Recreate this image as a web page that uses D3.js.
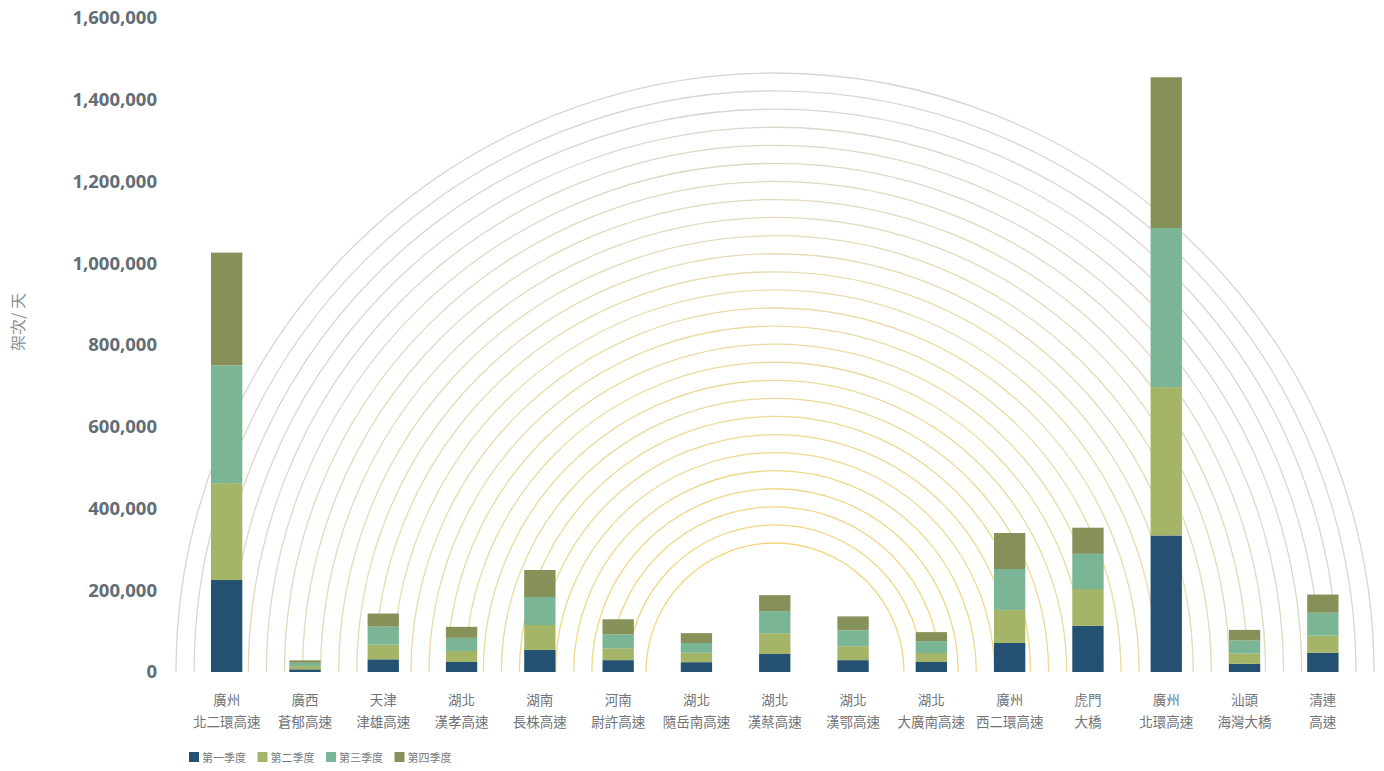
<!DOCTYPE html>
<html>
<head>
<meta charset="UTF-8">
<title>架次 / 天</title>
<script src="https://d3js.org/d3.v7.min.js"></script>
<style>
  body { margin: 0; background: #fff; }
  svg { display: block; }
</style>
</head>
<body>
<svg width="1384" height="771"></svg>
<script>
// data
var roadsLine1 = ["廣州", "廣西", "天津", "湖北", "湖南", "河南", "湖北", "湖北", "湖北", "湖北", "廣州", "虎門", "廣州", "汕頭", "清連"];
var roadsLine2 = ["北二環高速", "蒼郁高速", "津雄高速", "漢孝高速", "長株高速", "尉許高速", "隨岳南高速", "漢蔡高速", "漢鄂高速", "大廣南高速", "西二環高速", "大橋", "北環高速", "海灣大橋", "高速"];
var seasons = ["第一季度", "第二季度", "第三季度", "第四季度"];
var q1 = [225000, 6500, 31000, 24500, 54000, 29000, 24000, 44000, 29000, 24500, 71000, 113000, 334000, 20000, 47000];
var q2 = [237000, 8000, 36000, 27000, 61000, 29000, 23000, 51000, 34000, 22000, 81000, 90000, 363000, 25000, 42000];
var q3 = [288000, 8000, 44000, 32000, 68500, 34000, 24000, 54000, 39000, 29000, 100000, 86000, 389000, 32000, 56000];
var q4 = [276000, 6000, 32000, 27000, 66000, 37000, 24000, 39000, 34000, 22000, 88000, 64000, 369000, 26000, 44500];
var yTicks = [0, 200000, 400000, 600000, 800000, 1000000, 1200000, 1400000, 1600000];
var arcCount = 27;

var colors = ["#245172", "#a4b567", "#7ab595", "#869059"];

var svg = d3.select("svg");

var x = d3.scaleBand()
  .domain(d3.range(roadsLine1.length))
  .range([187.5, 1362])
  .paddingInner(0.6)
  .paddingOuter(0.3);

var y = d3.scaleLinear()
  .domain([0, 1600000])
  .range([672, 18]);

// background arcs
var cx = 775;
var rScale = d3.scaleLinear().domain([0, arcCount - 1]).range([129, 599]);
var arcColor = d3.scaleLinear()
  .domain([0, 0.55, 1])
  .range(["#f2d67e", "#e8dcae", "#d6d6d6"]);

var arcGen = d3.arc()
  .startAngle(-Math.PI / 2)
  .endAngle(Math.PI / 2);

svg.append("g")
  .attr("transform", "translate(" + cx + "," + y(0) + ")")
  .selectAll("path")
  .data(d3.range(arcCount))
  .enter()
  .append("path")
  .attr("d", function (i) {
    var r = rScale(i);
    return arcGen({ innerRadius: r, outerRadius: r });
  })
  .attr("fill", "none")
  .attr("stroke", function (i) { return arcColor(i / (arcCount - 1)); })
  .attr("stroke-width", 1.3);

// stacked bars
var rows = roadsLine1.map(function (d, i) {
  return { idx: i, q1: q1[i], q2: q2[i], q3: q3[i], q4: q4[i] };
});
var stack = d3.stack().keys(["q1", "q2", "q3", "q4"])(rows);

svg.append("g")
  .selectAll("g")
  .data(stack)
  .enter()
  .append("g")
  .attr("fill", function (d, i) { return colors[i]; })
  .selectAll("rect")
  .data(function (d) { return d; })
  .enter()
  .append("rect")
  .attr("x", function (d) { return x(d.data.idx); })
  .attr("width", x.bandwidth())
  .attr("y", function (d) { return y(d[1]); })
  .attr("height", function (d) { return y(d[0]) - y(d[1]); });

// y axis labels
var yAxis = svg.append("g")
  .attr("transform", "translate(157,0)")
  .call(d3.axisLeft(y).tickValues(yTicks).tickFormat(d3.format(",")).tickSize(0).tickPadding(0));
yAxis.select(".domain").remove();
yAxis.selectAll("text")
  .attr("fill", "#626d76")
  .attr("font-family", "'Open Sans', sans-serif")
  .attr("font-weight", "bold")
  .attr("font-size", 18.5);

svg.append("text")
  .attr("transform", "translate(24,322) rotate(-90)")
  .attr("text-anchor", "middle")
  .attr("fill", "#8a8f94")
  .attr("font-family", "'Noto Sans CJK TC', sans-serif")
  .attr("font-size", 16)
  .text("架次/ 天");

// x labels
var xl = svg.append("g")
  .selectAll("text")
  .data(roadsLine1)
  .enter()
  .append("text")
  .attr("text-anchor", "middle")
  .attr("fill", "#707478")
  .attr("font-family", "'Noto Sans CJK TC', sans-serif")
  .attr("font-size", 13.5)
  .attr("x", function (d, i) { return x(i) + x.bandwidth() / 2; });
xl.append("tspan").attr("y", 705).text(function (d) { return d; });
xl.append("tspan")
  .attr("y", 727)
  .attr("x", function (d, i) { return x(i) + x.bandwidth() / 2; })
  .text(function (d, i) { return roadsLine2[i]; });

// legend
var lg = svg.append("g")
  .selectAll("g")
  .data(seasons)
  .enter()
  .append("g")
  .attr("transform", function (d, i) { return "translate(" + (189 + i * 68.5) + ",752)"; });
lg.append("rect")
  .attr("width", 10)
  .attr("height", 10)
  .attr("fill", function (d, i) { return colors[i]; });
lg.append("text")
  .attr("x", 13)
  .attr("y", 9.5)
  .attr("fill", "#777b80")
  .attr("font-family", "'Noto Sans CJK TC', sans-serif")
  .attr("font-size", 11)
  .text(function (d) { return d; });
</script>
</body>
</html>
